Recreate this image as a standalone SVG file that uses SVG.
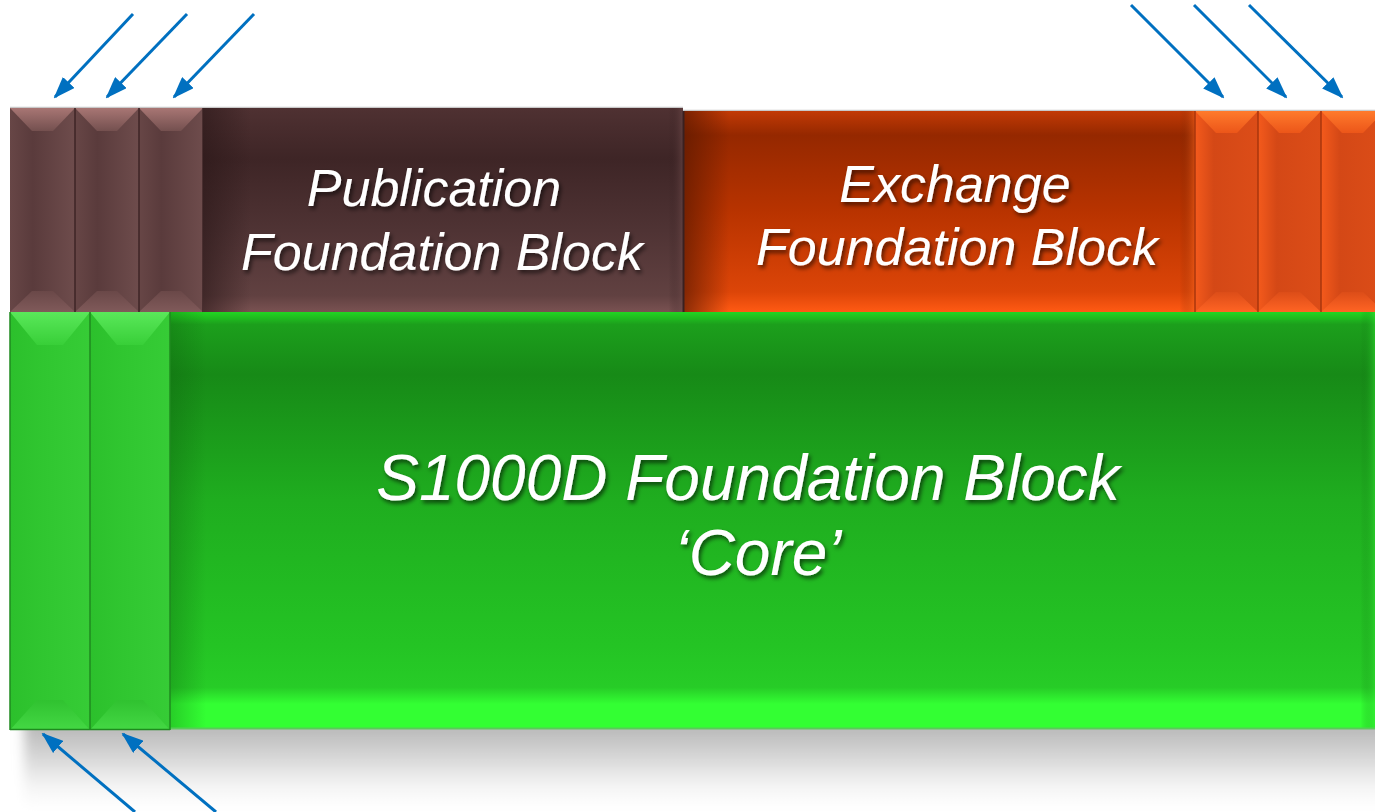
<svg xmlns="http://www.w3.org/2000/svg" width="1375" height="812" viewBox="0 0 1375 812">
  <style>
    .label { font-family: "Liberation Sans", Arial, sans-serif; font-style: italic; fill: #ffffff; text-anchor: middle; filter: url(#txtShadow); }
    .conn { stroke: #0070C0; stroke-width: 3; fill: none; marker-end: url(#arrowHead); }
    .seam { stroke-width: 1.5; }
  </style>
  <defs>
    <marker id="arrowHead" viewBox="0 0 22 16" refX="20" refY="8" markerWidth="22" markerHeight="16" orient="auto" markerUnits="userSpaceOnUse">
      <path d="M0,0 L22,8 L0,16 z" fill="#0070C0"/>
    </marker>
    <filter id="txtShadow" x="-10%" y="-20%" width="130%" height="150%">
      <feDropShadow dx="2" dy="3" stdDeviation="2" flood-color="#000" flood-opacity="0.6"/>
    </filter>
    <filter id="soft" x="-5%" y="-20%" width="110%" height="140%">
      <feGaussianBlur stdDeviation="6"/>
    </filter>
    <clipPath id="belowCore">
      <rect x="0" y="729" width="1375" height="83"/>
    </clipPath>
    <!-- brown family -->
    <linearGradient id="brownCol" x1="0" y1="0" x2="1" y2="0">
      <stop offset="0" stop-color="#674646"/>
      <stop offset="0.35" stop-color="#5a3b3c"/>
      <stop offset="1" stop-color="#6e4c4c"/>
    </linearGradient>
    <linearGradient id="brownTop" x1="0" y1="0" x2="0" y2="1">
      <stop offset="0" stop-color="#a87674"/>
      <stop offset="1" stop-color="#74504f"/>
    </linearGradient>
    <linearGradient id="brownBot" x1="0" y1="0" x2="0" y2="1">
      <stop offset="0" stop-color="#6a4848"/>
      <stop offset="1" stop-color="#805a5a"/>
    </linearGradient>
    <linearGradient id="pubGrad" x1="0" y1="0" x2="0" y2="1">
      <stop offset="0" stop-color="#4f3132"/>
      <stop offset="0.25" stop-color="#3e2526"/>
      <stop offset="0.6" stop-color="#4f3334"/>
      <stop offset="0.92" stop-color="#614141"/>
      <stop offset="1" stop-color="#7a5252"/>
    </linearGradient>
    <linearGradient id="pubSide" x1="0" y1="0" x2="1" y2="0">
      <stop offset="0" stop-color="#2a1718" stop-opacity="0.6"/>
      <stop offset="0.1" stop-color="#2a1718" stop-opacity="0"/>
      <stop offset="0.97" stop-color="#2a1718" stop-opacity="0"/>
      <stop offset="1" stop-color="#6e4a4a" stop-opacity="0.6"/>
    </linearGradient>
    <!-- orange family -->
    <linearGradient id="exGrad" x1="0" y1="0" x2="0" y2="1">
      <stop offset="0" stop-color="#c23a05"/>
      <stop offset="0.12" stop-color="#952800"/>
      <stop offset="0.5" stop-color="#b83300"/>
      <stop offset="0.9" stop-color="#dc4508"/>
      <stop offset="1" stop-color="#ff5a14"/>
    </linearGradient>
    <linearGradient id="exSide" x1="0" y1="0" x2="1" y2="0">
      <stop offset="0" stop-color="#5a1800" stop-opacity="0.7"/>
      <stop offset="0.09" stop-color="#5a1800" stop-opacity="0"/>
      <stop offset="0.97" stop-color="#5a1800" stop-opacity="0"/>
      <stop offset="1" stop-color="#ff6a20" stop-opacity="0.5"/>
    </linearGradient>
    <linearGradient id="orangeCol" x1="0" y1="0" x2="1" y2="0">
      <stop offset="0" stop-color="#f45a1c"/>
      <stop offset="0.3" stop-color="#d44816"/>
      <stop offset="1" stop-color="#dc4d18"/>
    </linearGradient>
    <linearGradient id="orangeTop" x1="0" y1="0" x2="0" y2="1">
      <stop offset="0" stop-color="#ff7a2c"/>
      <stop offset="1" stop-color="#ec5619"/>
    </linearGradient>
    <linearGradient id="orangeBot" x1="0" y1="0" x2="0" y2="1">
      <stop offset="0" stop-color="#dc4d18"/>
      <stop offset="1" stop-color="#ff6424"/>
    </linearGradient>
    <!-- green family -->
    <linearGradient id="greenMain" x1="0" y1="0" x2="0" y2="1">
      <stop offset="0" stop-color="#22d622"/>
      <stop offset="0.03" stop-color="#1c9f1c"/>
      <stop offset="0.15" stop-color="#178a17"/>
      <stop offset="0.45" stop-color="#1fad1f"/>
      <stop offset="0.8" stop-color="#24c424"/>
      <stop offset="0.9" stop-color="#27cc27"/>
      <stop offset="0.94" stop-color="#33ff33"/>
      <stop offset="1" stop-color="#33ff33"/>
    </linearGradient>
    <linearGradient id="greenSide" x1="0" y1="0" x2="1" y2="0">
      <stop offset="0" stop-color="#0c5a0c" stop-opacity="0.3"/>
      <stop offset="0.03" stop-color="#0c5a0c" stop-opacity="0"/>
      <stop offset="0.988" stop-color="#0c5a0c" stop-opacity="0"/>
      <stop offset="1" stop-color="#2ee02e" stop-opacity="0.5"/>
    </linearGradient>
    <linearGradient id="greenCol" x1="0" y1="0" x2="1" y2="0">
      <stop offset="0" stop-color="#2cc02c"/>
      <stop offset="0.4" stop-color="#30c630"/>
      <stop offset="1" stop-color="#36cc36"/>
    </linearGradient>
    <linearGradient id="greenTop" x1="0" y1="0" x2="0" y2="1">
      <stop offset="0" stop-color="#5ae85a"/>
      <stop offset="1" stop-color="#38cf38"/>
    </linearGradient>
    <linearGradient id="greenBot" x1="0" y1="0" x2="0" y2="1">
      <stop offset="0" stop-color="#30c230"/>
      <stop offset="1" stop-color="#44d844"/>
    </linearGradient>
    <linearGradient id="dropShade" x1="0" y1="0" x2="0" y2="1">
      <stop offset="0" stop-color="#b0b0b0"/>
      <stop offset="0.35" stop-color="#cfcfcf"/>
      <stop offset="0.75" stop-color="#f4f4f4"/>
      <stop offset="1" stop-color="#ffffff"/>
    </linearGradient>
  </defs>

  <rect width="1375" height="812" fill="#ffffff"/>

  <!-- cast shadow under the core block -->
  <g clip-path="url(#belowCore)">
    <rect x="24" y="718" width="1400" height="90" fill="url(#dropShade)" filter="url(#soft)"/>
  </g>

  <!-- top band outline -->
  <line x1="10" y1="107.5" x2="683" y2="107.5" stroke="#c8c8c8" stroke-width="1.5"/>
  <line x1="683" y1="110.5" x2="1375" y2="110.5" stroke="#c8c8c8" stroke-width="1.5"/>

  <!-- publication extension columns -->
  <g id="pub-col-1">
    <rect x="10" y="108" width="65" height="204" fill="url(#brownCol)"/>
    <polygon points="10,108 75,108 53,131 32,131" fill="url(#brownTop)"/>
    <polygon points="10,312 75,312 53,291 32,291" fill="url(#brownBot)"/>
  </g>
  <g id="pub-col-2">
    <rect x="75" y="108" width="64" height="204" fill="url(#brownCol)"/>
    <polygon points="75,108 139,108 117,131 97,131" fill="url(#brownTop)"/>
    <polygon points="75,312 139,312 117,291 97,291" fill="url(#brownBot)"/>
  </g>
  <g id="pub-col-3">
    <rect x="139" y="108" width="64" height="204" fill="url(#brownCol)"/>
    <polygon points="139,108 203,108 181,131 161,131" fill="url(#brownTop)"/>
    <polygon points="139,312 203,312 181,291 161,291" fill="url(#brownBot)"/>
  </g>
  <g id="pub-seams" stroke="#3e2526" class="seam">
    <line x1="75" y1="108" x2="75" y2="312"/>
    <line x1="139" y1="108" x2="139" y2="312"/>
    <line x1="203" y1="108" x2="203" y2="312"/>
  </g>

  <!-- publication foundation block -->
  <g id="publication-block">
    <rect x="203" y="108" width="480" height="204" fill="url(#pubGrad)"/>
    <rect x="203" y="108" width="480" height="204" fill="url(#pubSide)"/>
    <text class="label" x="434" y="206" font-size="52">Publication</text>
    <text class="label" x="442" y="270" font-size="52">Foundation Block</text>
  </g>

  <!-- exchange foundation block -->
  <g id="exchange-block">
    <rect x="683" y="111" width="512" height="201" fill="url(#exGrad)"/>
    <rect x="683" y="111" width="512" height="201" fill="url(#exSide)"/>
    <line x1="683.5" y1="111" x2="683.5" y2="312" stroke="#3a2020" stroke-width="2"/>
    <text class="label" x="955" y="202" font-size="52">Exchange</text>
    <text class="label" x="957" y="265" font-size="52">Foundation Block</text>
  </g>

  <!-- exchange extension columns -->
  <g id="ex-col-1">
    <rect x="1195" y="111" width="63" height="201" fill="url(#orangeCol)"/>
    <polygon points="1195,111 1258,111 1237,133 1216,133" fill="url(#orangeTop)"/>
    <polygon points="1195,312 1258,312 1237,292 1216,292" fill="url(#orangeBot)"/>
  </g>
  <g id="ex-col-2">
    <rect x="1258" y="111" width="63" height="201" fill="url(#orangeCol)"/>
    <polygon points="1258,111 1321,111 1300,133 1279,133" fill="url(#orangeTop)"/>
    <polygon points="1258,312 1321,312 1300,292 1279,292" fill="url(#orangeBot)"/>
  </g>
  <g id="ex-col-3">
    <rect x="1321" y="111" width="63" height="201" fill="url(#orangeCol)"/>
    <polygon points="1321,111 1384,111 1363,133 1342,133" fill="url(#orangeTop)"/>
    <polygon points="1321,312 1384,312 1363,292 1342,292" fill="url(#orangeBot)"/>
  </g>
  <g id="ex-seams" stroke="#a8360c" class="seam">
    <line x1="1195" y1="111" x2="1195" y2="312"/>
    <line x1="1258" y1="111" x2="1258" y2="312"/>
    <line x1="1321" y1="111" x2="1321" y2="312"/>
  </g>

  <!-- core foundation block -->
  <g id="core-block">
    <rect x="170" y="312" width="1205" height="417" fill="url(#greenMain)"/>
    <rect x="170" y="312" width="1205" height="417" fill="url(#greenSide)"/>
    <line x1="170" y1="728.5" x2="1375" y2="728.5" stroke="#5acb5a" stroke-width="2"/>
    <text class="label" x="748" y="500" font-size="64">S1000D Foundation Block</text>
    <text class="label" x="758" y="575" font-size="64">‘Core’</text>
  </g>

  <!-- core extension columns -->
  <g id="core-col-1">
    <rect x="10" y="312" width="80" height="418" fill="url(#greenCol)"/>
    <polygon points="10,312 90,312 63,345 37,345" fill="url(#greenTop)"/>
    <polygon points="10,730 90,730 63,700 37,700" fill="url(#greenBot)"/>
  </g>
  <g id="core-col-2">
    <rect x="90" y="312" width="80" height="418" fill="url(#greenCol)"/>
    <polygon points="90,312 170,312 143,345 117,345" fill="url(#greenTop)"/>
    <polygon points="90,730 170,730 143,700 117,700" fill="url(#greenBot)"/>
  </g>
  <g id="core-seams" stroke="#1f8a1f" class="seam">
    <line x1="10" y1="312" x2="10" y2="730"/>
    <line x1="90" y1="312" x2="90" y2="730"/>
    <line x1="170" y1="312" x2="170" y2="730"/>
    <line x1="10" y1="729.5" x2="170" y2="729.5"/>
  </g>

  <!-- pointer arrows -->
  <g id="connectors">
    <line class="conn" x1="133" y1="14" x2="55" y2="97"/>
    <line class="conn" x1="187" y1="14" x2="107" y2="97"/>
    <line class="conn" x1="254" y1="14" x2="174" y2="97"/>
    <line class="conn" x1="1131" y1="5" x2="1223" y2="97"/>
    <line class="conn" x1="1194" y1="5" x2="1286" y2="97"/>
    <line class="conn" x1="1249" y1="5" x2="1342" y2="97"/>
    <line class="conn" x1="135" y1="812" x2="43" y2="734"/>
    <line class="conn" x1="216" y1="812" x2="123" y2="734"/>
  </g>
</svg>
